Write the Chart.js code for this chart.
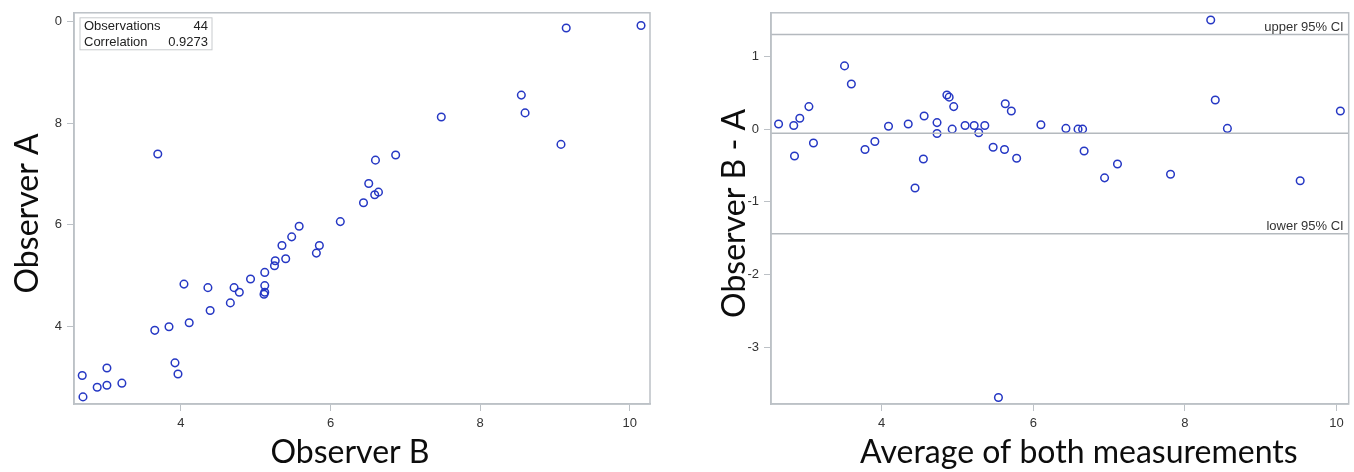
<!DOCTYPE html>
<html>
<head>
<meta charset="utf-8">
<script src="https://cdn.jsdelivr.net/npm/chart.js@4"></script>
<style>
  html, body { margin: 0; padding: 0; background: #fff; }
  #wrap { position: relative; width: 1354px; height: 472px; }
  .pane { position: absolute; top: 0; width: 677px; height: 472px; }
</style>
</head>
<body>
<div id="wrap">
  <div class="pane" style="left:0"><canvas id="corr_canvas" width="677" height="472"></canvas></div>
  <div class="pane" style="left:677px"><canvas id="ba_canvas" width="677" height="472"></canvas></div>
</div>
<script>
// observer measurements (x = Observer B, y = Observer A)
const observerB = [2.68, 2.69, 2.88, 3.01, 3.01, 3.21, 3.65, 3.84, 3.92, 3.96,
  4.04, 4.11, 4.36, 4.39, 4.66, 4.71, 4.78, 4.93, 5.12, 5.12,
  5.11, 5.12, 5.25, 5.26, 5.35, 5.40, 5.48, 5.81, 5.85, 3.69,
  5.58, 6.13, 6.44, 6.51, 6.59, 6.64, 6.60, 6.87, 7.48, 8.55,
  8.60, 9.08, 9.15, 10.15];
const observerA = [3.03, 2.61, 2.80, 3.18, 2.84, 2.88, 3.92, 3.99, 3.28, 3.06,
  4.83, 4.07, 4.76, 4.31, 4.46, 4.76, 4.67, 4.93, 4.80, 4.67,
  4.63, 5.06, 5.19, 5.29, 5.59, 5.33, 5.76, 5.44, 5.59, 7.39,
  5.97, 6.06, 6.43, 6.81, 6.59, 6.64, 7.27, 7.37, 8.12, 8.55,
  8.20, 7.58, 9.87, 9.92];

// Bland-Altman values
const baMean = [2.64, 2.84, 2.85, 2.92, 3.04, 3.10, 3.51, 3.60, 3.78, 3.91,
  4.09, 4.35, 4.44, 4.55, 4.56, 4.73, 4.73, 4.86, 4.89, 4.95,
  4.93, 5.10, 5.22, 5.28, 5.36, 5.47, 5.63, 5.62, 5.71, 5.78,
  6.10, 6.43, 6.59, 6.65, 6.67, 7.11, 6.94, 7.81, 8.34, 8.40,
  8.56, 9.52, 10.05, 5.54];
const baDiff = [0.07, 0.05, -0.37, 0.15, 0.31, -0.19, 0.87, 0.62, -0.28, -0.17,
  0.04, 0.07, -0.81, -0.41, 0.18, 0.09, -0.06, 0.47, 0.44, 0.31,
  0.00, 0.05, 0.05, -0.05, 0.05, -0.25, 0.35, -0.28, 0.25, -0.40,
  0.06, 0.01, 0.00, 0.00, -0.30, -0.48, -0.67, -0.62, 1.50, 0.40,
  0.01, -0.71, 0.25, -3.69];

const biasLine = -0.055;
const upperCI = 1.30;
const lowerCI = -1.44;
const ciLabels = ['upper 95% CI', 'lower 95% CI'];

const statNames = ['Observations', 'Correlation'];
const statValues = ['44', '0.9273'];

const corrXTicks = [4, 6, 8, 10];
const corrYTicks = [4, 6, 8, 10];
const corrYTickLabels = ['4', '6', '8', '0'];   // top label is cut to "0" in the source
const baXTicks = [4, 6, 8, 10];
const baYTicks = [-3, -2, -1, 0, 1];

const titles = {
  corrX: 'Observer B', corrY: 'Observer A',
  baX: 'Average of both measurements', baY: 'Observer B - A'
};

const blue = '#2638c4';
const frame = '#bcc1c6';
const tickFont = { family: "'Liberation Sans', Arial, sans-serif", size: 13 };
const titleFont = "32px Lato, 'Open Sans', sans-serif";

function toPoints(xs, ys) {
  return xs.map((x, i) => ({ x: x, y: ys[i] }));
}

function axis(min, max, ticks, labels, fitKey, fitVal) {
  return {
    type: 'linear', min: min, max: max,
    afterBuildTicks: a => { a.ticks = ticks.map(v => ({ value: v })); },
    afterFit: s => { s[fitKey] = fitVal; },
    grid: { drawOnChartArea: false, tickLength: 7, color: frame, lineWidth: 1 },
    border: { color: frame, width: 1.5 },
    ticks: {
      color: '#333', font: tickFont, padding: 5,
      callback: v => labels ? labels[ticks.indexOf(v)] : String(v)
    }
  };
}

// box around plot + axis titles
const framePlugin = {
  id: 'framePlugin',
  afterDraw(chart, args, opts) {
    const c = chart.ctx, a = chart.chartArea;
    c.save();
    c.strokeStyle = frame;
    c.lineWidth = 1.5;
    c.strokeRect(a.left, a.top, a.right - a.left, a.bottom - a.top);
    c.fillStyle = '#0d0d0d';
    c.font = titleFont;
    c.textAlign = 'center';
    c.textBaseline = 'alphabetic';
    c.fillText(opts.xTitle, (a.left + a.right) / 2 + opts.xShift, 463);
    c.translate(opts.yTitleX, (a.top + a.bottom) / 2 + 5);
    c.rotate(-Math.PI / 2);
    c.fillText(opts.yTitle, 0, 0);
    c.restore();
  }
};

const statsPlugin = {
  id: 'statsPlugin',
  afterDraw(chart) {
    const c = chart.ctx, a = chart.chartArea;
    const x0 = a.left + 6, y0 = a.top + 5, w = 132, h = 32;
    c.save();
    c.strokeStyle = '#c8cbce';
    c.lineWidth = 1;
    c.strokeRect(x0, y0, w, h);
    c.fillStyle = '#222';
    c.font = "13px 'Liberation Sans', Arial, sans-serif";
    c.textBaseline = 'middle';
    statNames.forEach((n, i) => {
      c.textAlign = 'left';
      c.fillText(n, x0 + 4, y0 + 9 + i * 16);
      c.textAlign = 'right';
      c.fillText(statValues[i], x0 + w - 4, y0 + 9 + i * 16);
    });
    c.restore();
  }
};

const ciLabelPlugin = {
  id: 'ciLabelPlugin',
  afterDatasetsDraw(chart) {
    const c = chart.ctx, a = chart.chartArea, ys = chart.scales.y;
    c.save();
    c.fillStyle = '#333';
    c.font = "13px 'Liberation Sans', Arial, sans-serif";
    c.textAlign = 'right';
    c.textBaseline = 'alphabetic';
    [upperCI, lowerCI].forEach((v, i) => {
      c.fillText(ciLabels[i], a.right - 5, ys.getPixelForValue(v) - 4);
    });
    c.restore();
  }
};

const pointStyle = {
  pointRadius: 3.8, pointHoverRadius: 3.8, pointBorderWidth: 1.5,
  pointBorderColor: blue, pointBackgroundColor: 'rgba(0,0,0,0)', showLine: false
};

new Chart(document.getElementById('corr_canvas'), {
  type: 'scatter',
  data: { datasets: [Object.assign({ data: toPoints(observerB, observerA) }, pointStyle)] },
  options: {
    responsive: false, animation: false, devicePixelRatio: 1,
    layout: { padding: { top: 12, right: 27, bottom: 0, left: 0 } },
    plugins: {
      legend: { display: false }, tooltip: { enabled: false },
      framePlugin: { xTitle: titles.corrX, yTitle: titles.corrY, xShift: -12, yTitleX: 38 }
    },
    scales: {
      x: axis(2.57, 10.27, corrXTicks, null, 'height', 68),
      y: axis(2.47, 10.17, corrYTicks, corrYTickLabels, 'width', 74)
    }
  },
  plugins: [framePlugin, statsPlugin]
});

function hLine(v) {
  return {
    type: 'line', data: [{ x: 2.54, y: v }, { x: 10.16, y: v }],
    borderColor: '#b4b9be', borderWidth: 1.5, pointRadius: 0, fill: false
  };
}

new Chart(document.getElementById('ba_canvas'), {
  type: 'scatter',
  data: {
    datasets: [
      hLine(upperCI), hLine(biasLine), hLine(lowerCI),
      Object.assign({ data: toPoints(baMean, baDiff) }, pointStyle)
    ]
  },
  options: {
    responsive: false, animation: false, devicePixelRatio: 1,
    layout: { padding: { top: 10, right: 4, bottom: 0, left: 0 } },
    plugins: {
      legend: { display: false }, tooltip: { enabled: false },
      framePlugin: { xTitle: titles.baX, yTitle: titles.baY, xShift: 19, yTitleX: 68 }
    },
    scales: {
      x: axis(2.54, 10.16, baXTicks, null, 'height', 68),
      y: axis(-3.78, 1.6, baYTicks, null, 'width', 94)
    }
  },
  plugins: [framePlugin, ciLabelPlugin]
});
</script>
</body>
</html>
